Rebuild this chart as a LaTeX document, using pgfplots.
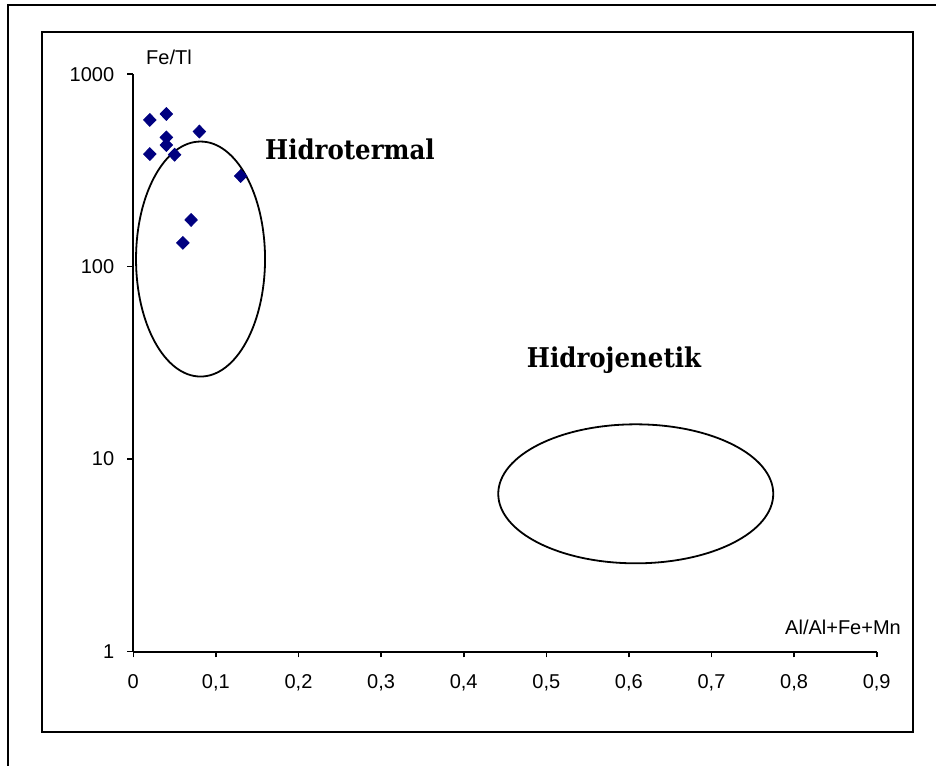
\documentclass[border=0pt]{standalone}
\usepackage{pgfplots}
\pgfplotsset{compat=1.18}
\usepackage{fontspec}
\setmainfont{Liberation Sans}
\newfontfamily\fieldfont[FakeStretch=0.9]{DejaVu Serif}
\definecolor{navy}{HTML}{000080}

\begin{document}
\begin{tikzpicture}[x=1pt,y=1pt]
\useasboundingbox (0,0) rectangle (468,382.5);
% outer frame: only its top and left edges fall on the page
\draw[line width=1pt] (4,-5) -- (4,380) -- (475,380);
% chart area frame
\draw[line width=1.4pt] (21,16.5) rectangle (456.5,366.5);
\begin{axis}[
  at={(66.65pt,56.75pt)}, anchor=south west,
  scale only axis, width=371.7pt, height=288.6pt,
  xmin=0, xmax=0.9, ymin=1, ymax=1000, ymode=log,
  axis lines*=left,
  axis line style={line width=1pt, black},
  xtick={0,0.1,0.2,0.3,0.4,0.5,0.6,0.7,0.8,0.9},
  xticklabels={0,{0,1},{0,2},{0,3},{0,4},{0,5},{0,6},{0,7},{0,8},{0,9}},
  ytick={1,10,100,1000},
  yticklabels={1,10,100,1000},
  yminorticks=false, xminorticks=false,
  tick align=outside, major tick length=3pt,
  tick style={black, line width=0.8pt},
  tick label style={font=\fontsize{10}{12}\selectfont, black},
  yticklabel style={xshift=-3pt},
  xticklabel style={yshift=-5pt},
  clip=false,
]
\addplot[only marks, mark=diamond*, mark size=3.2pt, color=navy, fill=navy,
         mark options={xscale=1.3}]
  coordinates {
    (0.02,579) (0.04,622) (0.04,470) (0.04,429) (0.02,385)
    (0.05,382) (0.08,504) (0.13,296) (0.07,175) (0.06,133)
  };
% field boundaries
\draw[line width=0.9pt] (axis cs:0.0814,109.6) ellipse [x radius=32.25pt, y radius=58.75pt];
\draw[line width=0.9pt] (axis cs:0.6083,6.60) ellipse [x radius=68.75pt, y radius=34.75pt];
\node[anchor=base, font=\fieldfont\bfseries\fontsize{13.6}{16}\selectfont] at (axis cs:0.2623,358.6) {Hidrotermal};
\node[anchor=base, font=\fieldfont\bfseries\fontsize{13.6}{16}\selectfont] at (axis cs:0.582,29.76) {Hidrojenetik};
% axis titles
\node[font=\fontsize{10}{12}\selectfont] at (axis description cs:0.048,1.03) {Fe/Tl};
\node[font=\fontsize{10}{12}\selectfont] at (axis description cs:0.9547,0.0424) {Al/Al+Fe+Mn};
\end{axis}
\end{tikzpicture}
\end{document}
